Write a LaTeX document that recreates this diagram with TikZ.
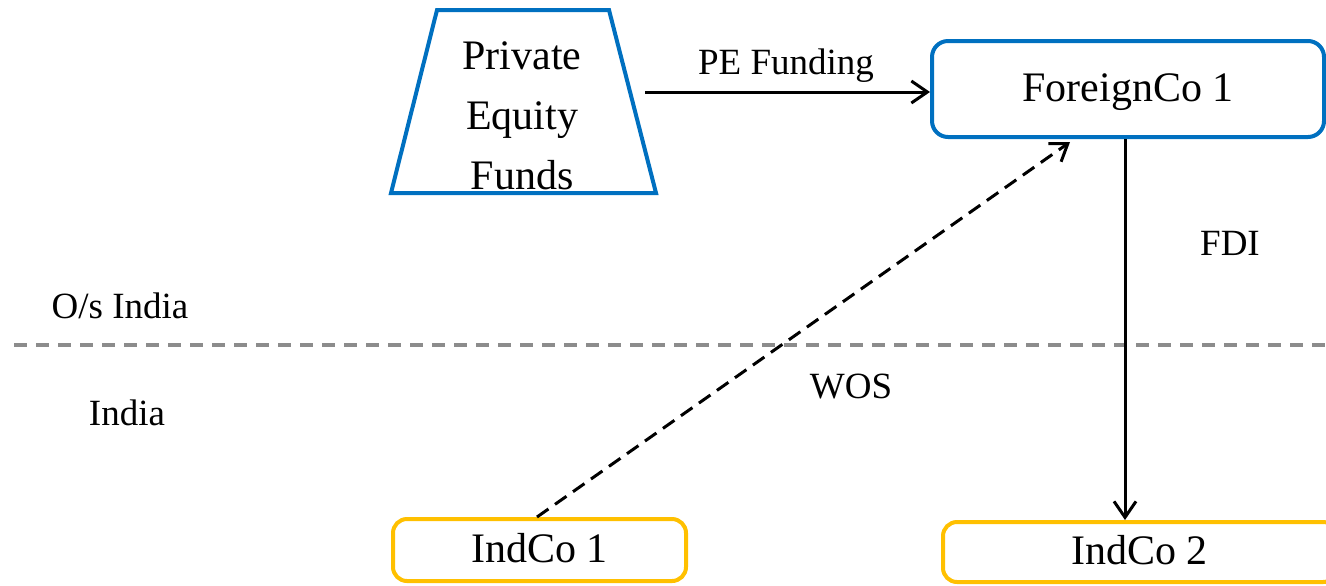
\documentclass[tikz,border=0pt]{standalone}
\usepackage{fontspec}
\setmainfont{Liberation Serif}
\usetikzlibrary{arrows.meta}
\definecolor{boxblue}{HTML}{0070C0}
\definecolor{boxgold}{HTML}{FFC000}
\definecolor{divgray}{HTML}{8C8C8C}
\begin{document}
\begin{tikzpicture}[x=0.5pt,y=-0.5pt,
  big/.style={font=\fontsize{21}{30}\selectfont},
  small/.style={font=\fontsize{18.5}{22}\selectfont},
  bluebox/.style={draw=boxblue,line width=2pt,rounded corners=8pt,big,text height=15pt,text depth=3pt},
  goldbox/.style={draw=boxgold,line width=2pt,rounded corners=7pt,big,text height=15pt,text depth=3pt},
  conn/.style={line width=1.5pt,-{Straight Barb[length=8pt,width=11pt,line width=1.5pt]}},
  dconn/.style={conn,dash pattern=on 7pt off 4pt},
  divider/.style={draw=divgray,line width=1.6pt,dash pattern=on 6.5pt off 4.5pt}]
\useasboundingbox (0,0) rectangle (1326,585);
% trapezoid
\draw[boxblue,line width=2pt] (437,10) -- (609,10) -- (656,193) -- (391,193) -- cycle;
\node[big,align=center,anchor=base] (pef) at (522,189) {Private\\Equity\\Funds};
% boxes
\node[bluebox,minimum width=392pt/2,minimum height=96pt/2] (fc) at (1128,89) {ForeignCo 1};
\node[goldbox,minimum width=293pt/2,minimum height=62pt/2] (ind1) at (539.5,550) {IndCo 1};
\node[goldbox,minimum width=394pt/2,minimum height=60pt/2,anchor=west] (ind2) at (941,552) {\hspace*{-0.5pt}IndCo 2};
% divider
\coordinate (dl) at (14,345);
\coordinate (dr) at (1326,345);
\draw[divider] (dl) -- (dr);
% labels
\node[small,anchor=base] (lpe) at (786,74) {PE Funding};
\node[small,anchor=base] (lfdi) at (1230,255) {FDI};
\node[small,anchor=base] (los) at (120,318) {O/s India};
\node[small,anchor=base] (lin) at (127,425) {India};
\node[small,anchor=base] (lwos) at (851,398) {WOS};
% connectors
\coordinate (peout) at (645,92);
\draw[conn] (peout) -- (fc.west |- peout);
\coordinate (fdtop) at (fc.south -| 1125,0);
\coordinate (fdbot) at (1125,520);
\draw[conn] (fdtop) -- (fdbot);
\coordinate (wosend) at (1070,142);
\draw[dconn] (ind1.north -| 537,0) -- (wosend);
\end{tikzpicture}
\end{document}
